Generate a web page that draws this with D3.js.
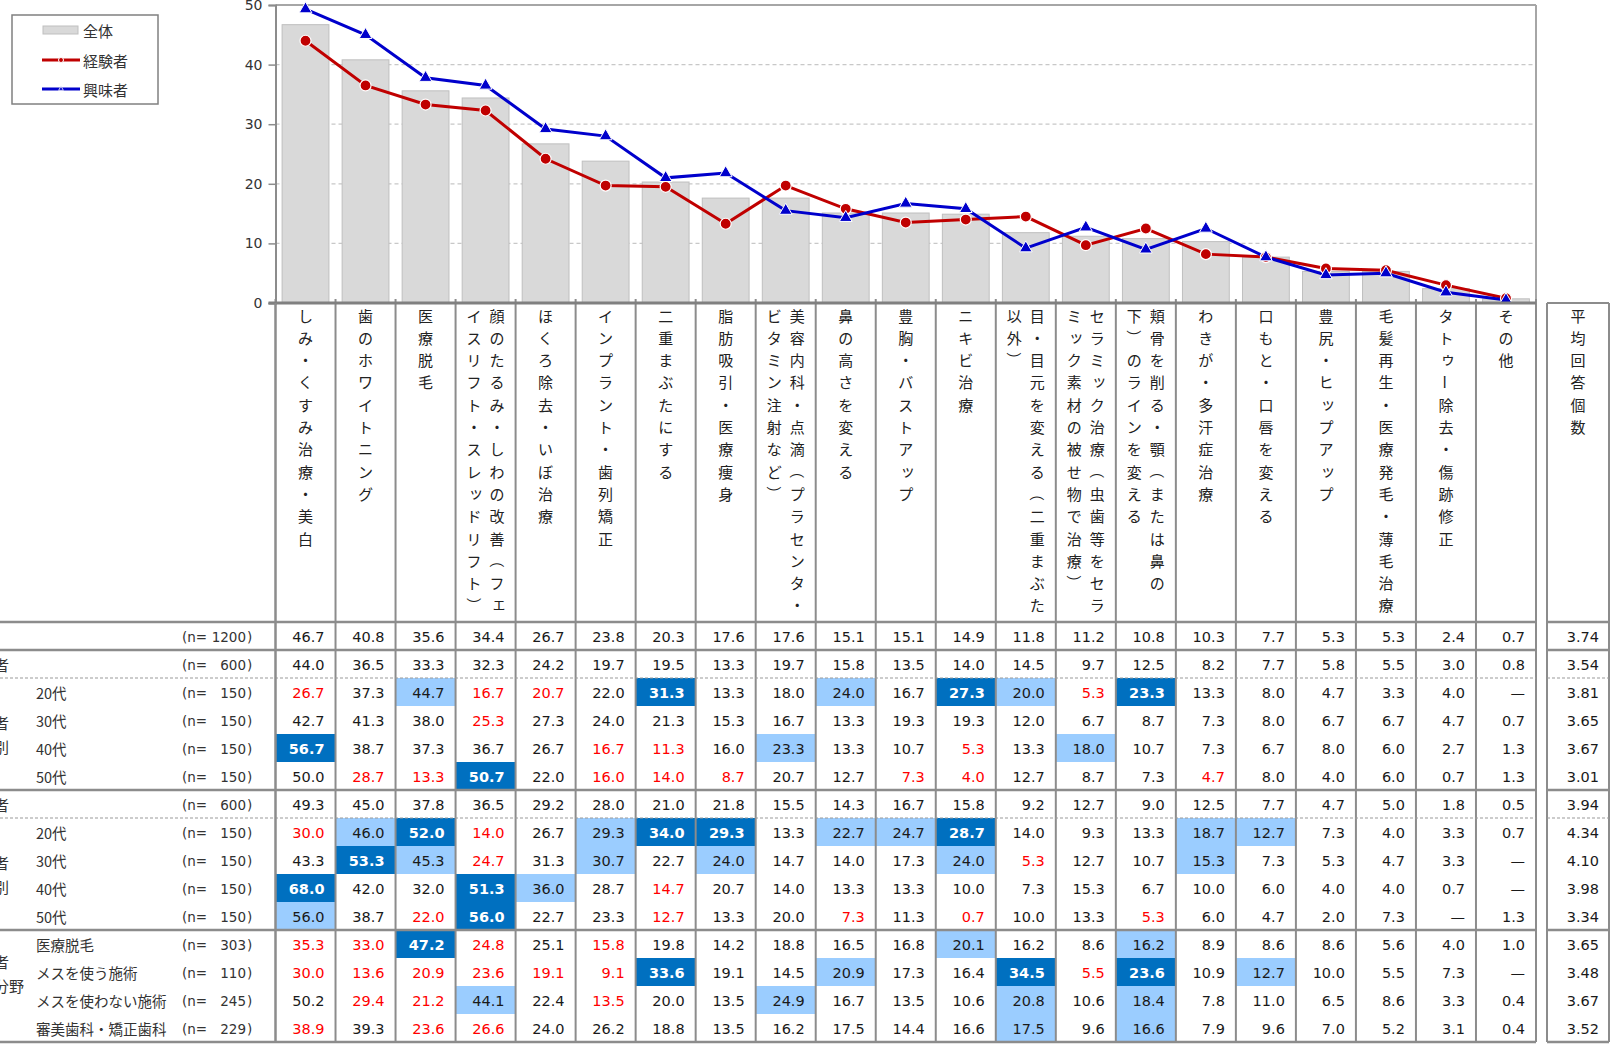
<!DOCTYPE html>
<html>
<head>
<meta charset="utf-8">
<script src="https://cdn.jsdelivr.net/npm/d3@7"></script>
<style>
  body { margin: 0; background: #fff; overflow: hidden; }
  svg { display: block; }
  .jp { font-family: "Noto Sans CJK JP", "Noto Sans", sans-serif; }
  .num { font-family: "DejaVu Sans", Verdana, sans-serif; }
</style>
</head>
<body>
<svg id="chart"></svg>
<script>
// Categories (header text, split into vertical columns, right line first)
const categories = [
  ["しみ・くすみ治療・美白"],
  ["歯のホワイトニング"],
  ["医療脱毛"],
  ["顔のたるみ・しわの改善（フェ", "イスリフト・スレッドリフト）"],
  ["ほくろ除去・いぼ治療"],
  ["インプラント・歯列矯正"],
  ["二重まぶたにする"],
  ["脂肪吸引・医療痩身"],
  ["美容内科・点滴（プラセンタ・", "ビタミン注射など）"],
  ["鼻の高さを変える"],
  ["豊胸・バストアップ"],
  ["ニキビ治療"],
  ["目・目元を変える（二重まぶた", "以外）"],
  ["セラミック治療（虫歯等をセラ", "ミック素材の被せ物で治療）"],
  ["頬骨を削る・顎（または鼻の", "下）のラインを変える"],
  ["わきが・多汗症治療"],
  ["口もと・口唇を変える"],
  ["豊尻・ヒップアップ"],
  ["毛髪再生・医療発毛・薄毛治療"],
  ["タトゥー除去・傷跡修正"],
  ["その他"]
];
const avgHeader = "平均回答個数";

// Series / table rows (null = —)
const total        = [46.7,40.8,35.6,34.4,26.7,23.8,20.3,17.6,17.6,15.1,15.1,14.9,11.8,11.2,10.8,10.3,7.7,5.3,5.3,2.4,0.7];
const expAll       = [44.0,36.5,33.3,32.3,24.2,19.7,19.5,13.3,19.7,15.8,13.5,14.0,14.5,9.7,12.5,8.2,7.7,5.8,5.5,3.0,0.8];
const exp20        = [26.7,37.3,44.7,16.7,20.7,22.0,31.3,13.3,18.0,24.0,16.7,27.3,20.0,5.3,23.3,13.3,8.0,4.7,3.3,4.0,null];
const exp30        = [42.7,41.3,38.0,25.3,27.3,24.0,21.3,15.3,16.7,13.3,19.3,19.3,12.0,6.7,8.7,7.3,8.0,6.7,6.7,4.7,0.7];
const exp40        = [56.7,38.7,37.3,36.7,26.7,16.7,11.3,16.0,23.3,13.3,10.7,5.3,13.3,18.0,10.7,7.3,6.7,8.0,6.0,2.7,1.3];
const exp50        = [50.0,28.7,13.3,50.7,22.0,16.0,14.0,8.7,20.7,12.7,7.3,4.0,12.7,8.7,7.3,4.7,8.0,4.0,6.0,0.7,1.3];
const intAll       = [49.3,45.0,37.8,36.5,29.2,28.0,21.0,21.8,15.5,14.3,16.7,15.8,9.2,12.7,9.0,12.5,7.7,4.7,5.0,1.8,0.5];
const int20        = [30.0,46.0,52.0,14.0,26.7,29.3,34.0,29.3,13.3,22.7,24.7,28.7,14.0,9.3,13.3,18.7,12.7,7.3,4.0,3.3,0.7];
const int30        = [43.3,53.3,45.3,24.7,31.3,30.7,22.7,24.0,14.7,14.0,17.3,24.0,5.3,12.7,10.7,15.3,7.3,5.3,4.7,3.3,null];
const int40        = [68.0,42.0,32.0,51.3,36.0,28.7,14.7,20.7,14.0,13.3,13.3,10.0,7.3,15.3,6.7,10.0,6.0,4.0,4.0,0.7,null];
const int50        = [56.0,38.7,22.0,56.0,22.7,23.3,12.7,13.3,20.0,7.3,11.3,0.7,10.0,13.3,5.3,6.0,4.7,2.0,7.3,null,1.3];
const expHair      = [35.3,33.0,47.2,24.8,25.1,15.8,19.8,14.2,18.8,16.5,16.8,20.1,16.2,8.6,16.2,8.9,8.6,8.6,5.6,4.0,1.0];
const expScalpel   = [30.0,13.6,20.9,23.6,19.1,9.1,33.6,19.1,14.5,20.9,17.3,16.4,34.5,5.5,23.6,10.9,12.7,10.0,5.5,7.3,null];
const expNoScalpel = [50.2,29.4,21.2,44.1,22.4,13.5,20.0,13.5,24.9,16.7,13.5,10.6,20.8,10.6,18.4,7.8,11.0,6.5,8.6,3.3,0.4];
const expDental    = [38.9,39.3,23.6,26.6,24.0,26.2,18.8,13.5,16.2,17.5,14.4,16.6,17.5,9.6,16.6,7.9,9.6,7.0,5.2,3.1,0.4];
const avgAnswers   = [3.74,3.54,3.81,3.65,3.67,3.01,3.94,4.34,4.10,3.98,3.34,3.65,3.48,3.67,3.52];

const rowValues = [total, expAll, exp20, exp30, exp40, exp50, intAll, int20, int30, int40, int50,
                   expHair, expScalpel, expNoScalpel, expDental];
const rowSubLabels = ["", "", "20代", "30代", "40代", "50代", "", "20代", "30代", "40代", "50代",
                      "医療脱毛", "メスを使う施術", "メスを使わない施術", "審美歯科・矯正歯科"];
const rowN = [1200, 600, 150, 150, 150, 150, 600, 150, 150, 150, 150, 303, 110, 245, 229];
const groupLabels = [
  { row: 0, lines: ["全体"] },
  { row: 1, lines: ["経験者"] },
  { row: 3.5, lines: ["経験者", "年代別"] },
  { row: 6, lines: ["興味者"] },
  { row: 8.5, lines: ["興味者", "年代別"] },
  { row: 12, lines: ["経験者", "施術分野"] }
];
const seriesNames = ["全体", "経験者", "興味者"];
const yTicks = [0, 10, 20, 30, 40, 50];

// Layout
const width = 1612, height = 1045;
const left = 275.5, right = 1536;
const plotTop = 5, plotBottom = 303;
const tableTop = 622, tableBottom = 1042;
const avgL = 1547, avgR = 1609;
const gridColor = '#8c8c8c';
const red = '#C00000', blue = '#0000CC';

const svg = d3.select('#chart').attr('width', width).attr('height', height);

const col = d3.scaleBand().domain(d3.range(categories.length)).range([left, right]);
const barX = d3.scaleBand().domain(d3.range(categories.length)).range([left, right])
  .paddingInner(0.22).paddingOuter(0.11);
const y = d3.scaleLinear().domain([0, 50]).range([plotBottom, plotTop]);
const row = d3.scaleBand().domain(d3.range(rowValues.length)).range([tableTop, tableBottom]);
const cx = i => col(i) + col.bandwidth() / 2;

// Gridlines
svg.append('g').selectAll('line')
  .data(yTicks.filter(t => t > 0 && t < 50))
  .enter().append('line')
  .attr('x1', left).attr('x2', right)
  .attr('y1', d => y(d)).attr('y2', d => y(d))
  .attr('stroke', '#c8c8c8').attr('stroke-width', 1.2).attr('stroke-dasharray', '4,3');

// Bars
svg.append('g').selectAll('rect')
  .data(total)
  .enter().append('rect')
  .attr('x', (d, i) => barX(i))
  .attr('width', barX.bandwidth())
  .attr('y', d => y(d))
  .attr('height', d => y(0) - y(d))
  .attr('fill', '#D9D9D9').attr('stroke', '#BFBFBF').attr('stroke-width', 1);

// Plot frame
svg.append('line').attr('x1', left).attr('x2', right).attr('y1', plotTop).attr('y2', plotTop)
  .attr('stroke', '#a6a6a6').attr('stroke-width', 2);
svg.append('line').attr('x1', right).attr('x2', right).attr('y1', plotTop).attr('y2', plotBottom)
  .attr('stroke', '#a6a6a6').attr('stroke-width', 2);

// Y axis
const yAxis = svg.append('g')
  .attr('transform', `translate(${left},0)`)
  .call(d3.axisLeft(y).tickValues(yTicks).tickSize(7).tickPadding(6));
yAxis.select('.domain').attr('stroke', gridColor).attr('stroke-width', 2);
yAxis.selectAll('.tick line').attr('stroke', gridColor).attr('stroke-width', 1.5);
yAxis.selectAll('.tick text').attr('class', 'num').attr('font-size', 14).attr('fill', '#333');

// Lines with markers
const line = d3.line().x((d, i) => cx(i)).y(d => y(d));
svg.append('path').datum(expAll).attr('d', line)
  .attr('fill', 'none').attr('stroke', red).attr('stroke-width', 3);
svg.append('path').datum(intAll).attr('d', line)
  .attr('fill', 'none').attr('stroke', blue).attr('stroke-width', 3);
svg.append('g').selectAll('circle').data(expAll).enter().append('circle')
  .attr('cx', (d, i) => cx(i)).attr('cy', d => y(d)).attr('r', 5.5)
  .attr('fill', red).attr('stroke', '#fff').attr('stroke-width', 1.2);
const tri = d3.symbol(d3.symbolTriangle, 70);
svg.append('g').selectAll('path').data(intAll).enter().append('path')
  .attr('d', tri)
  .attr('transform', (d, i) => `translate(${cx(i)},${y(d)})`)
  .attr('fill', blue).attr('stroke', '#fff').attr('stroke-width', 1);

// Table cell fills
const fillFor = (v, r, c) => {
  if (r === 0 || r === 1 || r === 6 || v == null) return null;
  const diff = Math.round((v - total[c]) * 10) / 10;
  if (diff >= 10) return 'dark';
  if (diff >= 5) return 'light';
  if (diff <= -5) return 'low';
  return null;
};
const cells = [];
rowValues.forEach((vals, r) => vals.forEach((v, c) => cells.push({ r, c, v, k: fillFor(v, r, c) })));

svg.append('g').selectAll('rect')
  .data(cells.filter(d => d.k === 'dark' || d.k === 'light'))
  .enter().append('rect')
  .attr('x', d => col(d.c)).attr('width', col.bandwidth())
  .attr('y', d => row(d.r)).attr('height', row.bandwidth())
  .attr('fill', d => d.k === 'dark' ? '#0070C0' : '#9BCDFF');

// Table vertical lines (column dividers incl. header)
svg.append('g').selectAll('line')
  .data(d3.range(categories.length + 1))
  .enter().append('line')
  .attr('x1', i => i < categories.length ? col(i) : right)
  .attr('x2', i => i < categories.length ? col(i) : right)
  .attr('y1', plotBottom - 4).attr('y2', tableBottom)
  .attr('stroke', gridColor).attr('stroke-width', 2);
svg.append('g').selectAll('line')
  .data([avgL, avgR])
  .enter().append('line')
  .attr('x1', d => d).attr('x2', d => d)
  .attr('y1', plotBottom).attr('y2', tableBottom)
  .attr('stroke', gridColor).attr('stroke-width', 2);
svg.append('line').attr('x1', avgL).attr('x2', avgR).attr('y1', plotBottom).attr('y2', plotBottom)
  .attr('stroke', gridColor).attr('stroke-width', 2);

// Horizontal separators
const solidRows = [0, 1, 6, 11, 15];
const dashedRows = [2, 7];
const rowEdge = i => i < rowValues.length ? row(i) : tableBottom;
[[0, right], [avgL, avgR]].forEach(([x1, x2]) => {
  svg.append('g').selectAll('line').data(solidRows).enter().append('line')
    .attr('x1', x1).attr('x2', x2).attr('y1', rowEdge).attr('y2', rowEdge)
    .attr('stroke', gridColor).attr('stroke-width', 2.5);
  svg.append('g').selectAll('line').data(dashedRows).enter().append('line')
    .attr('x1', x1).attr('x2', x2).attr('y1', rowEdge).attr('y2', rowEdge)
    .attr('stroke', '#999').attr('stroke-width', 1).attr('stroke-dasharray', '3,2');
});

// X axis line
svg.append('line').attr('x1', left - 7).attr('x2', right).attr('y1', plotBottom).attr('y2', plotBottom)
  .attr('stroke', '#808080').attr('stroke-width', 3);
svg.append('line').attr('x1', left).attr('x2', left).attr('y1', plotBottom).attr('y2', tableBottom)
  .attr('stroke', gridColor).attr('stroke-width', 2);

// Vertical header text
const rotated = new Set(['（', '）', 'ー']);
const small = new Set(['ッ', 'ャ', 'ュ', 'ョ', 'ィ', 'ェ', 'ゥ', 'ォ', 'ァ', 'っ', 'ゃ']);
const pitch = 22.3, firstChar = 315;
function verticalText(g, str, x) {
  Array.from(str).forEach((ch, k) => {
    const yy = firstChar + k * pitch;
    const t = g.append('text').attr('class', 'jp')
      .attr('text-anchor', 'middle').attr('dominant-baseline', 'central')
      .attr('font-size', 15).attr('fill', '#222').text(ch);
    if (rotated.has(ch)) {
      t.attr('x', x).attr('y', yy).attr('transform', `rotate(90,${x},${yy})`);
    } else if (small.has(ch)) {
      t.attr('x', x + 2).attr('y', yy - 2);
    } else {
      t.attr('x', x).attr('y', yy);
    }
  });
}
const header = svg.append('g');
categories.forEach((lines, i) => {
  if (lines.length === 1) verticalText(header, lines[0], cx(i));
  else lines.forEach((ln, j) => verticalText(header, ln, cx(i) + (j === 0 ? 11.5 : -11.5)));
});
verticalText(header, avgHeader, (avgL + avgR) / 2);

// Table numbers
const rowMid = r => row(r) + row.bandwidth() / 2;
svg.append('g').selectAll('text')
  .data(cells)
  .enter().append('text')
  .attr('class', 'num')
  .attr('x', d => col(d.c) + col.bandwidth() - 11)
  .attr('y', d => rowMid(d.r) + 1)
  .attr('text-anchor', 'end').attr('dominant-baseline', 'central')
  .attr('font-size', 14.5)
  .attr('font-weight', d => d.k === 'dark' ? 'bold' : 'normal')
  .attr('fill', d => d.k === 'dark' ? '#fff' : d.k === 'low' ? '#FF0000' : '#1a1a1a')
  .text(d => d.v == null ? '—' : d.v.toFixed(1));

svg.append('g').selectAll('text')
  .data(avgAnswers)
  .enter().append('text')
  .attr('class', 'num')
  .attr('x', avgR - 10).attr('y', (d, r) => rowMid(r) + 1)
  .attr('text-anchor', 'end').attr('dominant-baseline', 'central')
  .attr('font-size', 14.5).attr('fill', '#1a1a1a')
  .text(d => d.toFixed(2));

// Row labels
const labels = svg.append('g').attr('fill', '#333');
rowSubLabels.forEach((s, r) => {
  if (s) labels.append('text').attr('class', 'jp').attr('x', 36).attr('y', rowMid(r))
    .attr('dominant-baseline', 'central').attr('font-size', 14.5).text(s);
  labels.append('text').attr('class', 'num').attr('x', 182).attr('y', rowMid(r) + 1)
    .attr('dominant-baseline', 'central').attr('font-size', 13.5).text('(n=');
  labels.append('text').attr('class', 'num').attr('x', 246).attr('y', rowMid(r) + 1)
    .attr('text-anchor', 'end').attr('dominant-baseline', 'central').attr('font-size', 13.5).text(rowN[r]);
  labels.append('text').attr('class', 'num').attr('x', 247).attr('y', rowMid(r) + 1)
    .attr('dominant-baseline', 'central').attr('font-size', 13.5).text(')');
});
groupLabels.forEach(gl => {
  const base = gl.lines.length === 1 ? rowMid(gl.row)
    : gl.row === 12 ? rowMid(11) + 17 : row(Math.floor(gl.row)) + row.bandwidth() * (gl.row % 1) + 14 - 12;
  gl.lines.forEach((ln, j) => {
    labels.append('text').attr('class', 'jp')
      .attr('x', -36).attr('y', base + j * 24)
      .attr('dominant-baseline', 'central').attr('font-size', 15).text(ln);
  });
});

// Legend
const legend = svg.append('g');
legend.append('rect').attr('x', 12).attr('y', 15).attr('width', 146).attr('height', 89)
  .attr('fill', '#fff').attr('stroke', '#808080').attr('stroke-width', 1.5);
const legY = [30, 60, 89];
legend.append('rect').attr('x', 43).attr('y', legY[0] - 4).attr('width', 35).attr('height', 8)
  .attr('fill', '#D9D9D9').attr('stroke', '#BFBFBF');
[[red, 1], [blue, 2]].forEach(([c, k]) => {
  legend.append('line').attr('x1', 42).attr('x2', 80).attr('y1', legY[k]).attr('y2', legY[k])
    .attr('stroke', c).attr('stroke-width', 3);
});
legend.append('circle').attr('cx', 61).attr('cy', legY[1]).attr('r', 2.5)
  .attr('fill', red).attr('stroke', '#fff').attr('stroke-width', 1);
legend.append('path').attr('d', d3.symbol(d3.symbolTriangle, 10))
  .attr('transform', `translate(61,${legY[2]})`).attr('fill', blue).attr('stroke', '#fff').attr('stroke-width', 0.8);
legend.selectAll('text.leg').data(seriesNames).enter().append('text')
  .attr('class', 'jp').attr('x', 83).attr('y', (d, i) => legY[i])
  .attr('dominant-baseline', 'central').attr('font-size', 15).attr('fill', '#333')
  .text(d => d);
</script>
</body>
</html>
